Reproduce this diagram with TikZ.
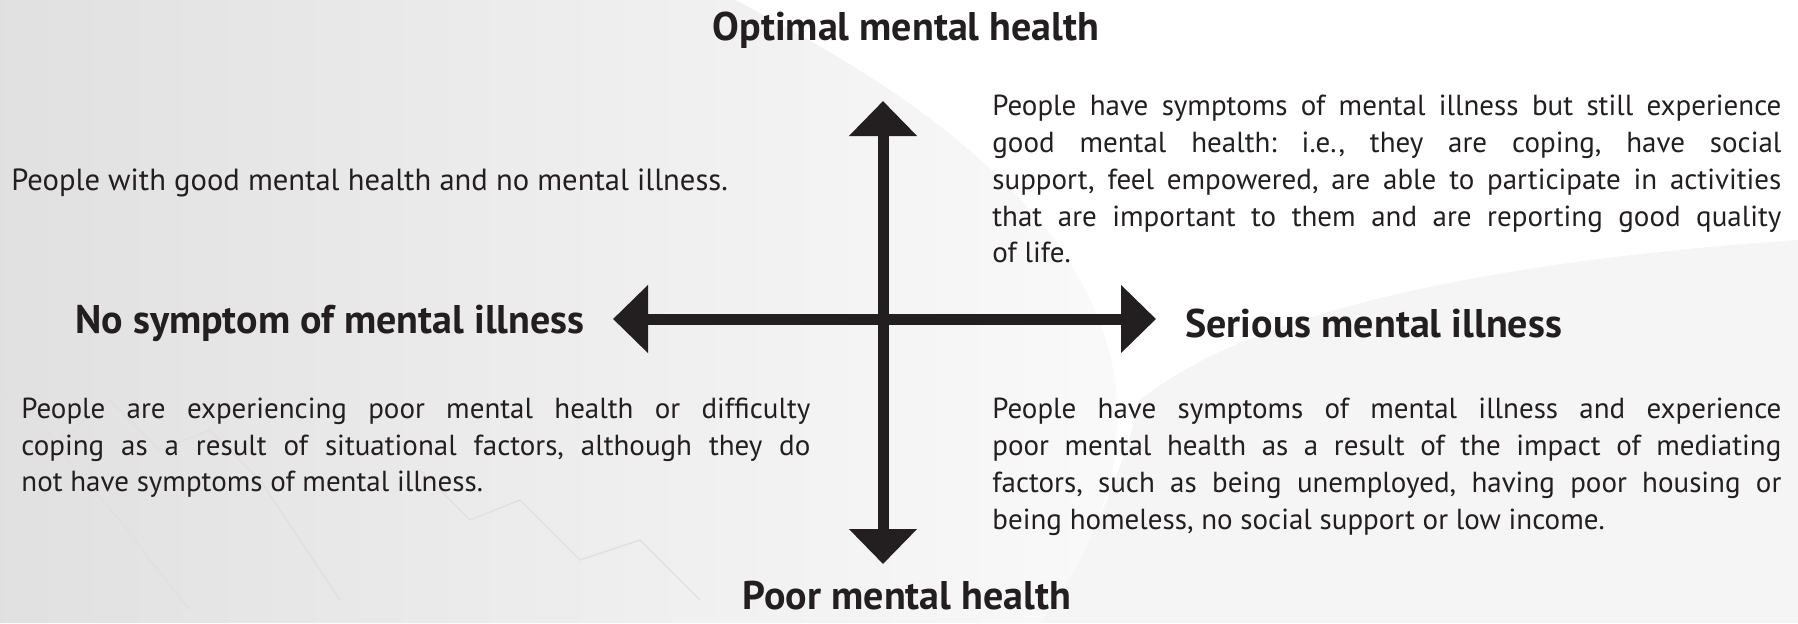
\documentclass[tikz,border=0pt]{standalone}
\usepackage{fontspec}
\setmainfont{PT Sans}
\usetikzlibrary{arrows.meta, positioning}
\definecolor{ink}{HTML}{231F20}
\tikzstyle{heading} = [font=\fontsize{20}{24}\selectfont\bfseries, text=ink, inner sep=0pt]
\tikzstyle{blurb} = [font=\fontsize{14.5}{18.35}\selectfont\frenchspacing, text=ink, inner sep=0pt, text width=394.5pt, align=justify]
\tikzstyle{axis} = [line width=5.5pt, draw=ink, {Triangle[length=17.5pt,width=33pt]}-{Triangle[length=17.5pt,width=33pt]}]
\tikzstyle{vein} = [black!12, line width=0.7pt, line join=round]

\begin{document}
\begin{tikzpicture}[x=0.5pt, y=-0.5pt]
    \useasboundingbox (0,0) rectangle (1798,623);
    % paper and marble backdrop
    \fill[black!4] (0,0) rectangle (1798,623);
    \fill[white] (735,0) -- (1798,0) -- (1798,240) .. controls (1500,260) and (1250,310) .. (1140,400) .. controls (1120,480) and (1080,570) .. (1040,623) -- cycle;
    \shade[left color=black!12, right color=black!2] (0,0) -- (735,0) .. controls (930,100) and (1090,220) .. (1115,380) .. controls (1130,480) and (1080,570) .. (1040,623) -- (0,623) -- cycle;
    \draw[vein] (0,390) -- (40,420) -- (75,470) -- (120,520) -- (150,560) -- (190,610);
    \draw[vein] (60,440) -- (110,400) -- (160,450) -- (210,430) -- (260,480) -- (300,540) -- (340,600);
    \draw[vein] (420,470) -- (470,520) -- (520,500) -- (580,560) -- (640,540) -- (700,600);

    % the two axes
    \coordinate (hub) at (883,319);
    \coordinate (up) at (883,101);
    \coordinate (down) at (883,564);
    \coordinate (west) at (613,319);
    \coordinate (east) at (1156,319);
    \draw[axis] (down) -- (up);
    \draw[axis] (west) -- (east);

    % axis labels
    \node[heading] (optimal) at (906,30) {Optimal mental health};
    \node[heading] (poor) at (907,596) {Poor mental health};
    \node[heading, anchor=east] (nosymptom) at (585,323) {No symptom of mental illness};
    \node[heading, anchor=west] (serious) at (1185,323) {Serious mental illness};

    % quadrant descriptions
    \node[font=\fontsize{15.3}{18.35}\selectfont, text=ink, inner sep=0pt, anchor=west] (wellbeing) at (11,183) {People with good mental health and no mental illness.};
    \node[blurb, anchor=north west] (coping) at (992,95) {People have symptoms of mental illness but still experience\linebreak
        good mental health: i.e., they are coping, have social\linebreak
        support, feel empowered, are able to participate in activities\linebreak
        that are important to them and are reporting good quality\linebreak
        of life.};
    \node[blurb, anchor=north west] (situational) at (21,397.5) {People are experiencing poor mental health or difficulty\linebreak
        coping as a result of situational factors, although they do\linebreak
        not have symptoms of mental illness.};
    \node[blurb, anchor=north west] (struggling) at (992,398) {People have symptoms of mental illness and experience\linebreak
        poor mental health as a result of the impact of mediating\linebreak
        factors, such as being unemployed, having poor housing or\linebreak
        being homeless, no social support or low income.};
\end{tikzpicture}
\end{document}
